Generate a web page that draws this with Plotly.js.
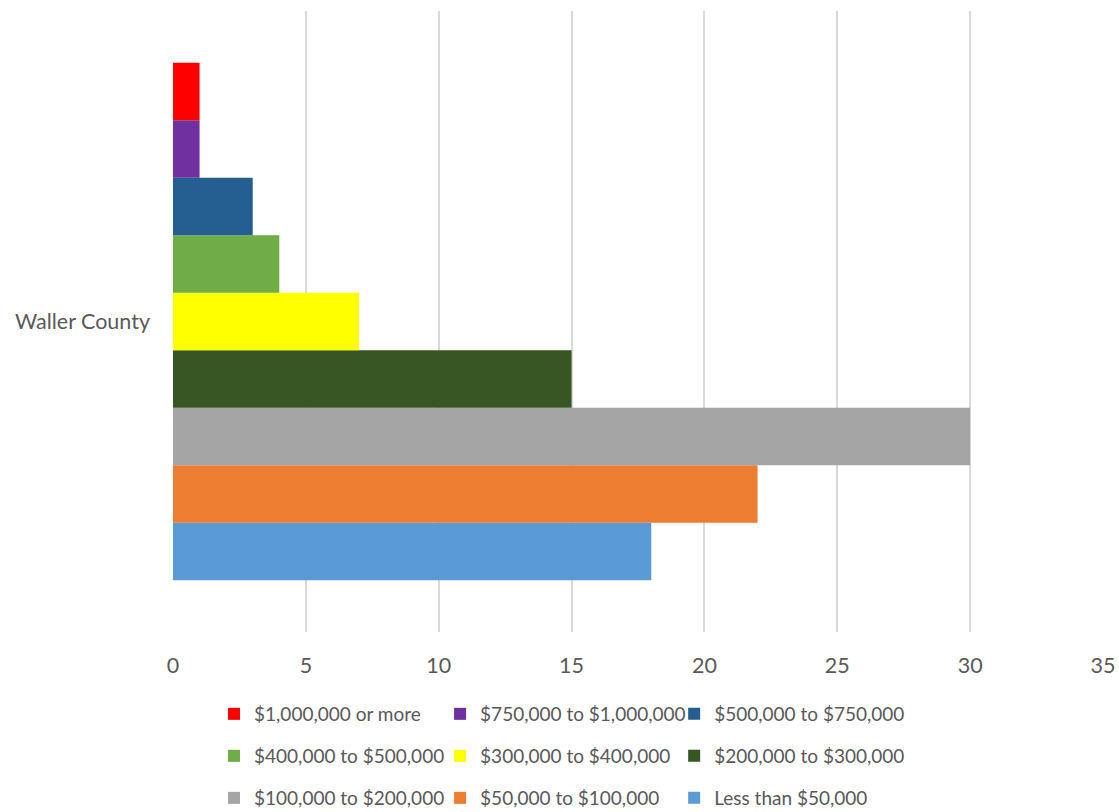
<!DOCTYPE html>
<html>
<head>
<meta charset="utf-8">
<script src="https://cdn.plot.ly/plotly-3.0.1.min.js"></script>
<style>html,body{margin:0;padding:0;background:#fff;}#chart{width:1119px;height:812px;}</style>
</head>
<body>
<div id="chart"></div>
<script>
// Data (bottom-to-top order in the chart)
const categories = ["Waller County"];
const seriesNames = ["Less than $50,000", "$50,000 to $100,000", "$100,000 to $200,000",
  "$200,000 to $300,000", "$300,000 to $400,000", "$400,000 to $500,000",
  "$500,000 to $750,000", "$750,000 to $1,000,000", "$1,000,000 or more"];
const seriesValues = [18, 22, 30, 15, 7, 4, 3, 1, 1];
const seriesColors = ["#5B9BD5", "#ED7D31", "#A5A5A5", "#375623", "#FFFF00", "#70AD47",
  "#255E91", "#7030A0", "#FF0000"];
const xTicks = [0, 5, 10, 15, 20, 25, 30, 35];

// legend grid slot (row, col) for each series: top row first, read left to right
const legendSlots = [[2, 2], [2, 1], [2, 0], [1, 2], [1, 1], [1, 0], [0, 2], [0, 1], [0, 0]];

const traces = seriesNames.map((name, i) => ({
  type: "bar",
  orientation: "h",
  name: name,
  y: categories,
  x: [seriesValues[i]],
  marker: {color: seriesColors[i], line: {width: 0}},
  legend: i === 0 ? "legend" : "legend" + (i + 1),
  hoverinfo: "x+name"
}));

const fam = "Lato, Carlito, 'Open Sans', sans-serif";
const legFont = {family: fam, size: 19, color: "#595959"};
const tickFont = {family: fam, size: 21.5, color: "#595959"};
const W = 929.7, L = 173, H = 621, T = 11;
const colPx = [228, 454, 688];
const rowPx = [714, 756, 798];

const layout = {
  width: 1119, height: 812,
  margin: {l: L, r: 1119 - L - W, t: T, b: 812 - T - H, pad: 0, autoexpand: false},
  paper_bgcolor: "#ffffff", plot_bgcolor: "#ffffff",
  font: legFont,
  barmode: "group",
  bargap: 0.167,
  bargroupgap: 0,
  showlegend: true,
  xaxis: {
    range: [0, 35], tickvals: xTicks, ticktext: xTicks.map(String),
    showgrid: true, gridcolor: "#D9D9D9", gridwidth: 1.5,
    zeroline: false, showline: false, ticks: "", ticklen: 0,
    ticklabelstandoff: 18,
    tickfont: tickFont,
    fixedrange: true, automargin: false
  },
  yaxis: {
    showgrid: false, zeroline: false, showline: false, ticks: "",
    ticklabelstandoff: 22,
    tickfont: tickFont,
    fixedrange: true, automargin: false
  }
};

seriesNames.forEach((name, i) => {
  const key = i === 0 ? "legend" : "legend" + (i + 1);
  const [r, c] = legendSlots[i];
  layout[key] = {
    orientation: "h", xanchor: "left", yanchor: "middle",
    x: (colPx[c] - 14 - L) / W, y: (T + H - rowPx[r]) / H,
    font: legFont, bgcolor: "rgba(0,0,0,0)", borderwidth: 0
  };
});

Plotly.newPlot("chart", traces, layout, {displayModeBar: false, staticPlot: false});
</script>
</body>
</html>
